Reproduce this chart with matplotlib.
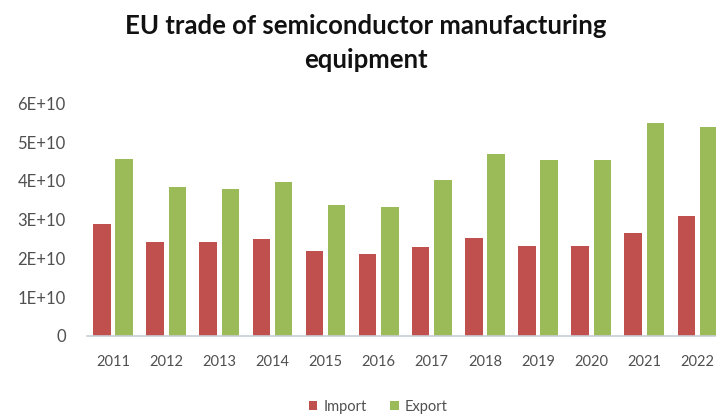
import numpy as np
import matplotlib.pyplot as plt
from matplotlib.ticker import FuncFormatter

# =====================================
# DATA
# =====================================

years = ["2011", "2012", "2013", "2014", "2015", "2016",
         "2017", "2018", "2019", "2020", "2021", "2022"]

imports = [2.89e10, 2.42e10, 2.42e10, 2.49e10, 2.19e10, 2.11e10,
           2.29e10, 2.53e10, 2.32e10, 2.32e10, 2.65e10, 3.09e10]

exports = [4.56e10, 3.84e10, 3.80e10, 3.96e10, 3.37e10, 3.33e10,
           4.01e10, 4.68e10, 4.55e10, 4.53e10, 5.48e10, 5.39e10]

y_ticks = [0, 1e10, 2e10, 3e10, 4e10, 5e10, 6e10]

# =====================================
# STYLE
# =====================================

plt.rcParams['font.family'] = ['Lato', 'DejaVu Sans']

RED = "#C0504D"
GREEN = "#9BBB59"
TEXT = "#505050"

fig = plt.figure(figsize=(7.16, 4.17), dpi=100)

# plot area runs a little past the right edge of the figure
ax = fig.add_axes([86.5 / 716, 1 - 336 / 417, 637.5 / 716, 232.7 / 417])

x = np.arange(len(years))
width = 0.33

ax.bar(x - 0.21, imports, width, color=RED, label="Import")
ax.bar(x + 0.21, exports, width, color=GREEN, label="Export")

ax.set_xlim(-0.5, len(years) - 0.5)
ax.set_ylim(0, 6e10)
ax.set_xticks(x)
ax.set_xticklabels(years)
ax.set_yticks(y_ticks)


def sci_label(v, pos):
    if v == 0:
        return "0"
    return "%dE+10" % round(v / 1e10)


ax.yaxis.set_major_formatter(FuncFormatter(sci_label))

for side in ["top", "right", "left"]:
    ax.spines[side].set_visible(False)
ax.spines["bottom"].set_color("#C8CDD6")
ax.spines["bottom"].set_linewidth(1.2)

ax.tick_params(axis="both", length=0, colors=TEXT)
ax.tick_params(axis="x", pad=14, labelsize=10.5)
ax.tick_params(axis="y", pad=15, labelsize=12)

# =====================================
# TITLE + LEGEND
# =====================================

fig.text(366 / 716, 1 - 43 / 417, "EU trade of semiconductor manufacturing\nequipment",
         ha="center", va="center", fontsize=18.5, fontweight="bold",
         color="#111111", linespacing=1.55)

fig.legend(loc="center", bbox_to_anchor=(378 / 716, 1 - 407 / 417), ncol=2,
           frameon=False, fontsize=10.5, handlelength=0.6, handleheight=0.6,
           handletextpad=0.4, columnspacing=1.6, labelcolor=TEXT)

plt.savefig("out.png", dpi=100)
